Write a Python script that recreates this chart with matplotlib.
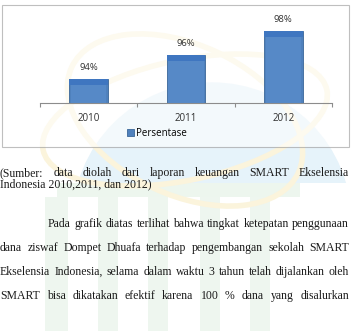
import matplotlib
matplotlib.use("Agg")
import matplotlib.pyplot as plt
from matplotlib.patches import Rectangle, Circle, Ellipse
import numpy as np

categories = ["2010", "2011", "2012"]
values = [94, 96, 98]
labels = ["94%", "96%", "98%"]
legend_label = "Persentase"

caption_lines = [
    ("(Sumber: data diolah dari laporan keuangan SMART Ekselensia", True, 0),
    ("Indonesia 2010,2011, dan 2012)", False, 0),
]
para_lines = [
    ("Pada grafik diatas terlihat bahwa tingkat ketepatan penggunaan", True, 48),
    ("dana ziswaf  Dompet Dhuafa terhadap pengembangan sekolah SMART", True, 0),
    ("Ekselensia Indonesia, selama dalam waktu 3 tahun telah dijalankan oleh", True, 0),
    ("SMART bisa dikatakan efektif karena 100 % dana yang disalurkan", True, 0),
]

W, H = 352, 331
fig = plt.figure(figsize=(W / 100, H / 100), dpi=100)
fig.patch.set_facecolor("white")

def fx(x):
    return x / W

def fy(y):
    return 1 - y / H

# faint watermark
bg = fig.add_axes([0, 0, 1, 1], zorder=0)
bg.set_xlim(0, W)
bg.set_ylim(H, 0)
bg.axis("off")
dome = Circle((212, 222), 139, color="#e6f3fa", zorder=0)
bg.add_patch(dome)
clip = Rectangle((0, 0), W, 183, transform=bg.transData, visible=False)
bg.add_patch(clip)
dome.set_clip_path(clip)
bg.add_patch(Rectangle((57, 183), 243, 14, color="#edf6ee", zorder=0, lw=0))
for x0, x1 in [(45, 68), (98, 118), (148, 168), (200, 220), (250, 270)]:
    bg.add_patch(Rectangle((x0, 197), x1 - x0, 134, color="#eef6ef", zorder=0, lw=0))
bg.add_patch(Ellipse((185, 120), 290, 120, angle=-12, fill=False, ec="#fbf4dc", lw=4, zorder=0))
bg.add_patch(Ellipse((185, 120), 250, 150, angle=25, fill=False, ec="#fbf4dc", lw=4, zorder=0))

# chart frame
bg.add_patch(Rectangle((2, 5), 347, 142, fill=True, fc="white", ec="#8c8c8c", lw=0.8, zorder=1, alpha=0.55))

ax = fig.add_axes([fx(40), fy(103), fx(332) - fx(40), fy(7) - fy(103)], zorder=2)
ax.patch.set_alpha(0)
x = np.arange(len(categories))
bars = ax.bar(x, [v - 92 for v in values], bottom=92, width=0.4, color="#4f81bd",
              edgecolor="#3a6698", linewidth=0.6, label=legend_label)
for b in bars:
    bx, bw = b.get_x(), b.get_width()
    top = b.get_y() + b.get_height()
    ax.add_patch(Rectangle((bx, top - 0.5), bw, 0.5, color="#3f76c0", zorder=3, lw=0))
    ax.add_patch(Rectangle((bx + bw * 0.05, 92), bw * 0.9, top - 92.5, color="#5b8fcf", zorder=3, lw=0, alpha=0.6))
for xi, v, lab in zip(x, values, labels):
    ax.text(xi, v + 0.55, lab, ha="center", va="bottom", fontsize=6.8,
            family="Open Sans", color="#333333")
ax.set_ylim(92, 100)
ax.set_xlim(-0.5, 2.5)
for s in ["top", "right", "left"]:
    ax.spines[s].set_visible(False)
ax.spines["bottom"].set_color("#8c8c8c")
ax.spines["bottom"].set_linewidth(0.8)
ax.set_yticks([])
ax.set_xticks([-0.5, 0.5, 1.5, 2.5])
ax.set_xticklabels([])
ax.tick_params(axis="x", length=3, color="#8c8c8c", width=0.8)
for xi, c in zip(x, categories):
    ax.text(xi, 92 - 0.85, c, ha="center", va="top", fontsize=7,
            family="Open Sans", color="#303030")
ax.legend(handles=[bars[0]], labels=[legend_label], loc="center", bbox_to_anchor=(fx(157), fy(133)),
          bbox_transform=fig.transFigure, frameon=False, handlelength=0.7,
          handleheight=0.7, handletextpad=0.3, prop={"family": "Open Sans", "size": 7})

# text
fig.canvas.draw()
renderer = fig.canvas.get_renderer()
FONT = dict(family="Liberation Serif", fontsize=8.5, color="#1a1a1a")

def draw_line(text, justify, indent, y, right=349):
    words = text.split()
    if not justify:
        bg.text(indent, y, text, ha="left", va="center", **FONT)
        return
    objs = [bg.text(0, y, w, ha="left", va="center", **FONT) for w in words]
    widths = []
    for o in objs:
        bb = o.get_window_extent(renderer)
        widths.append(bb.width * W / fig.bbox.width)
    total = sum(widths)
    gap = (right - indent - total) / (len(words) - 1)
    cur = indent
    for o, wdt in zip(objs, widths):
        o.set_x(cur)
        cur += wdt + gap

ys = [173, 184]
for (t, j, ind), y in zip(caption_lines, ys):
    draw_line(t, j, ind, y)
ys = [224, 248, 272, 296]
for (t, j, ind), y in zip(para_lines, ys):
    draw_line(t, j, ind, y)

fig.savefig("out.png", dpi=100)
